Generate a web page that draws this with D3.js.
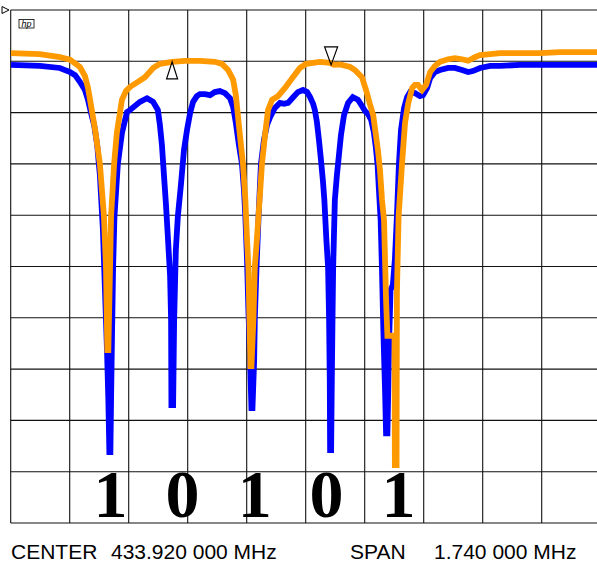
<!DOCTYPE html>
<html><head><meta charset="utf-8">
<script src="https://cdn.jsdelivr.net/npm/d3@7"></script>
<style>html,body{margin:0;padding:0;background:#fff;overflow:hidden}</style>
</head><body>
<svg id="c" width="597" height="562"></svg>
<script>
// ---- data ----
const centerLabel = ["CENTER", "433.920 000 MHz"];
const spanLabel = ["SPAN", "1.740 000 MHz"];
const freqDomain = [-870, 870];          // kHz offset from centre (span 1.740 MHz)
const levelDomain = [0, -100];           // dB, 10 dB / div
const freqGrid = [-870,-696,-522,-348,-174,0,174,348,522,696,870];
const levelGrid = [0,-10,-20,-30,-40,-50,-60,-70,-80,-90,-100];

// trace A (blue): [kHz, dB]
const traceBlue = [
[-869,-10.7],[-784,-10.9],[-725,-11.3],[-695,-12.1],[-680,-12.7],[-666,-14.0],[-651,-15.6],[-642,-17.5],
[-633,-20.1],[-624,-22.4],[-615,-26.3],[-607,-32.2],[-598,-42.9],[-592,-54.6],[-586,-66.3],[-582,-76.0],
[-579,-86.2],[-576,-86.2],[-574,-76.0],[-571,-62.4],[-568,-50.1],[-564,-40.2],[-554,-30.0],[-542,-24.0],
[-527,-19.9],[-518,-19.5],[-489,-17.9],[-468,-17.2],[-450,-17.9],[-436,-19.5],[-430,-22.4],[-424,-26.3],
[-418,-32.2],[-412,-38.0],[-406,-44.8],[-400,-51.7],[-397,-60.4],[-396,-77.0],[-391,-77.0],[-388,-60.4],
[-383,-46.8],[-377,-40.2],[-368,-34.1],[-359,-27.3],[-350,-23.4],[-341,-20.1],[-332,-17.9],[-321,-16.8],
[-312,-16.4],[-297,-16.4],[-282,-16.6],[-268,-16.0],[-253,-15.8],[-238,-16.2],[-223,-17.2],[-214,-18.9],
[-206,-22.0],[-197,-26.3],[-188,-30.0],[-182,-35.1],[-178,-40.2],[-173,-48.7],[-169,-58.5],[-164,-68.2],
[-160,-77.6],[-157,-77.6],[-152,-68.2],[-150,-60.0],[-145,-50.1],[-139,-40.2],[-132,-30.0],[-123,-25.3],
[-114,-22.4],[-105,-20.9],[-91,-19.1],[-76,-18.1],[-64,-18.3],[-52,-18.1],[-37,-17.0],[-23,-16.0],
[-8,-15.6],[4,-16.0],[13,-17.0],[22,-18.3],[27,-19.5],[33,-21.8],[39,-25.3],[45,-29.2],[51,-33.5],
[55,-37.0],[61,-44.8],[66,-50.1],[69,-60.4],[71,-72.1],[72,-85.8],[75,-85.8],[77,-72.1],[79,-60.4],
[81,-50.1],[83,-44.8],[86,-37.0],[92,-32.2],[98,-28.3],[104,-24.4],[113,-20.5],[125,-18.1],[139,-17.0],
[154,-17.5],[166,-18.7],[175,-19.7],[184,-20.3],[193,-21.4],[201,-23.8],[207,-26.9],[212,-30.2],
[216,-35.1],[221,-40.9],[225,-50.7],[229,-62.4],[234,-74.1],[237,-82.5],[241,-82.5],[244,-72.1],
[246,-64.3],[249,-57.7],[250,-54.6],[257,-53.6],[263,-48.7],[269,-40.2],[275,-30.0],[281,-23.4],
[290,-19.1],[299,-17.0],[308,-16.0],[322,-16.2],[337,-16.8],[346,-16.6],[358,-15.2],[367,-13.3],
[381,-12.1],[396,-11.7],[420,-11.3],[440,-11.3],[461,-11.7],[479,-12.1],[493,-11.9],[514,-11.3],
[544,-10.9],[573,-10.9],[632,-10.7],[691,-10.7],[750,-10.7],[809,-10.7],[870,-10.7]
];

// trace B (orange): [kHz, dB]
const traceOrange = [
[-869,-8.4],[-784,-8.6],[-725,-9.2],[-695,-9.7],[-666,-11.1],[-651,-12.9],[-642,-15.2],[-636,-17.5],
[-621,-23.4],[-607,-30.0],[-595,-40.2],[-589,-50.1],[-585,-66.3],[-582,-66.3],[-577,-50.1],[-574,-40.2],
[-565,-30.0],[-557,-24.0],[-542,-17.5],[-530,-15.8],[-518,-15.0],[-495,-14.0],[-474,-13.1],[-450,-11.3],
[-430,-10.5],[-394,-10.1],[-356,-9.9],[-312,-9.9],[-268,-10.1],[-247,-10.5],[-229,-11.7],[-214,-13.6],
[-206,-16.6],[-200,-20.5],[-194,-24.4],[-185,-30.0],[-178,-37.0],[-173,-44.8],[-169,-50.1],[-166,-60.0],
[-163,-69.4],[-160,-69.4],[-154,-60.0],[-150,-50.1],[-144,-44.8],[-136,-37.0],[-129,-30.0],[-120,-24.4],
[-111,-19.5],[-99,-17.5],[-82,-16.8],[-61,-15.2],[-40,-13.3],[-17,-11.3],[1,-10.5],[42,-10.1],[72,-10.3],
[84,-10.7],[101,-10.6],[131,-11.1],[145,-11.7],[166,-13.1],[178,-15.6],[190,-18.5],[199,-20.5],
[207,-24.4],[213,-27.3],[219,-31.2],[225,-37.0],[231,-41.0],[237,-56.5],[241,-63.5],[262,-63.5],
[263,-88.7],[268,-88.7],[269,-55.0],[274,-40.2],[284,-30.0],[293,-22.0],[302,-18.3],[314,-15.2],
[322,-14.6],[331,-14.6],[343,-15.6],[355,-14.6],[367,-12.1],[381,-10.9],[396,-10.1],[420,-9.6],
[440,-9.4],[461,-9.6],[479,-9.9],[499,-9.2],[514,-8.8],[544,-8.6],[573,-8.4],[632,-8.4],[691,-8.4],
[750,-8.2],[809,-8.2],[870,-8.2]
];

const bits = ["1","0","1","0","1"];
const bitFreqs = [-576,-363,-150,61,274];
const markerFreqs = [-394, 75];
const markerLevels = [-10.1, -10.3];
const markerDirs = ["up", "down"];

// ---- drawing ----
const svg = d3.select("#c");
const x = d3.scaleLinear().domain(freqDomain).range([10.7, 600.7]);
const y = d3.scaleLinear().domain(levelDomain).range([10, 523]);

const grid = svg.append("g").attr("stroke", "#111").attr("stroke-width", 1.1).attr("fill", "none");
grid.selectAll("line.v").data(freqGrid).join("line").attr("class","v")
  .attr("x1", d => x(d)).attr("x2", d => x(d)).attr("y1", y(0)).attr("y2", y(-100));
grid.selectAll("line.h").data(levelGrid).join("line").attr("class","h")
  .attr("y1", d => y(d)).attr("y2", d => y(d)).attr("x1", x(-870)).attr("x2", x(870));

const line = d3.line().x(d => x(d[0])).y(d => y(d[1]));
svg.append("path").datum(traceBlue).attr("d", line)
  .attr("fill","none").attr("stroke","#0000ff").attr("stroke-width",5.8)
  .attr("stroke-linejoin","miter").attr("stroke-miterlimit",3);
svg.append("path").datum(traceOrange).attr("d", line)
  .attr("fill","none").attr("stroke","#ff9900").attr("stroke-width",5.8)
  .attr("stroke-linejoin","miter").attr("stroke-miterlimit",3);

// markers
markerFreqs.forEach((f, i) => {
  const mx = x(f), my = y(markerLevels[i]);
  const pts = markerDirs[i] === "up"
    ? [[mx, my], [mx - 5.5, my + 17], [mx + 5.5, my + 17]]
    : [[mx, my + 2], [mx - 6.5, my - 16], [mx + 6.5, my - 16]];
  svg.append("path").attr("d", "M" + pts.map(p => p.join(",")).join("L") + "Z")
    .attr("fill","none").attr("stroke","#000").attr("stroke-width",1.2);
});

// reference level pointer
svg.append("path").attr("d", `M2,${y(0)-3.5}L9,${y(0)}L2,${y(0)+3.5}Z`)
  .attr("fill","#fff").attr("stroke","#000").attr("stroke-width",1);

// hp logo
svg.append("rect").attr("x",19).attr("y",19.5).attr("width",15).attr("height",8.5)
  .attr("fill","none").attr("stroke","#000").attr("stroke-width",0.8);
svg.append("text").attr("x",26.5).attr("y",26.5).attr("text-anchor","middle")
  .attr("font-family","Liberation Sans, Arial, sans-serif").attr("font-style","italic")
  .attr("font-size",9).text("hp");

// bit labels
svg.selectAll("text.bit").data(bits).join("text").attr("class","bit")
  .attr("x", (d, i) => x(bitFreqs[i])).attr("y", 517)
  .attr("text-anchor","middle")
  .attr("font-family","Liberation Serif, 'Times New Roman', serif")
  .attr("font-weight","bold").attr("font-size",68).attr("fill","#000")
  .text(d => d);

// bottom annotations
const ann = svg.append("g").attr("font-family","Liberation Sans, Arial, sans-serif")
  .attr("font-size",21).attr("fill","#000");
ann.append("text").attr("x",11).attr("y",559).text(centerLabel[0]);
ann.append("text").attr("x",111).attr("y",559).text(centerLabel[1]);
ann.append("text").attr("x",350).attr("y",559).text(spanLabel[0]);
ann.append("text").attr("x",434).attr("y",559).text(spanLabel[1]);
</script>
</body></html>
